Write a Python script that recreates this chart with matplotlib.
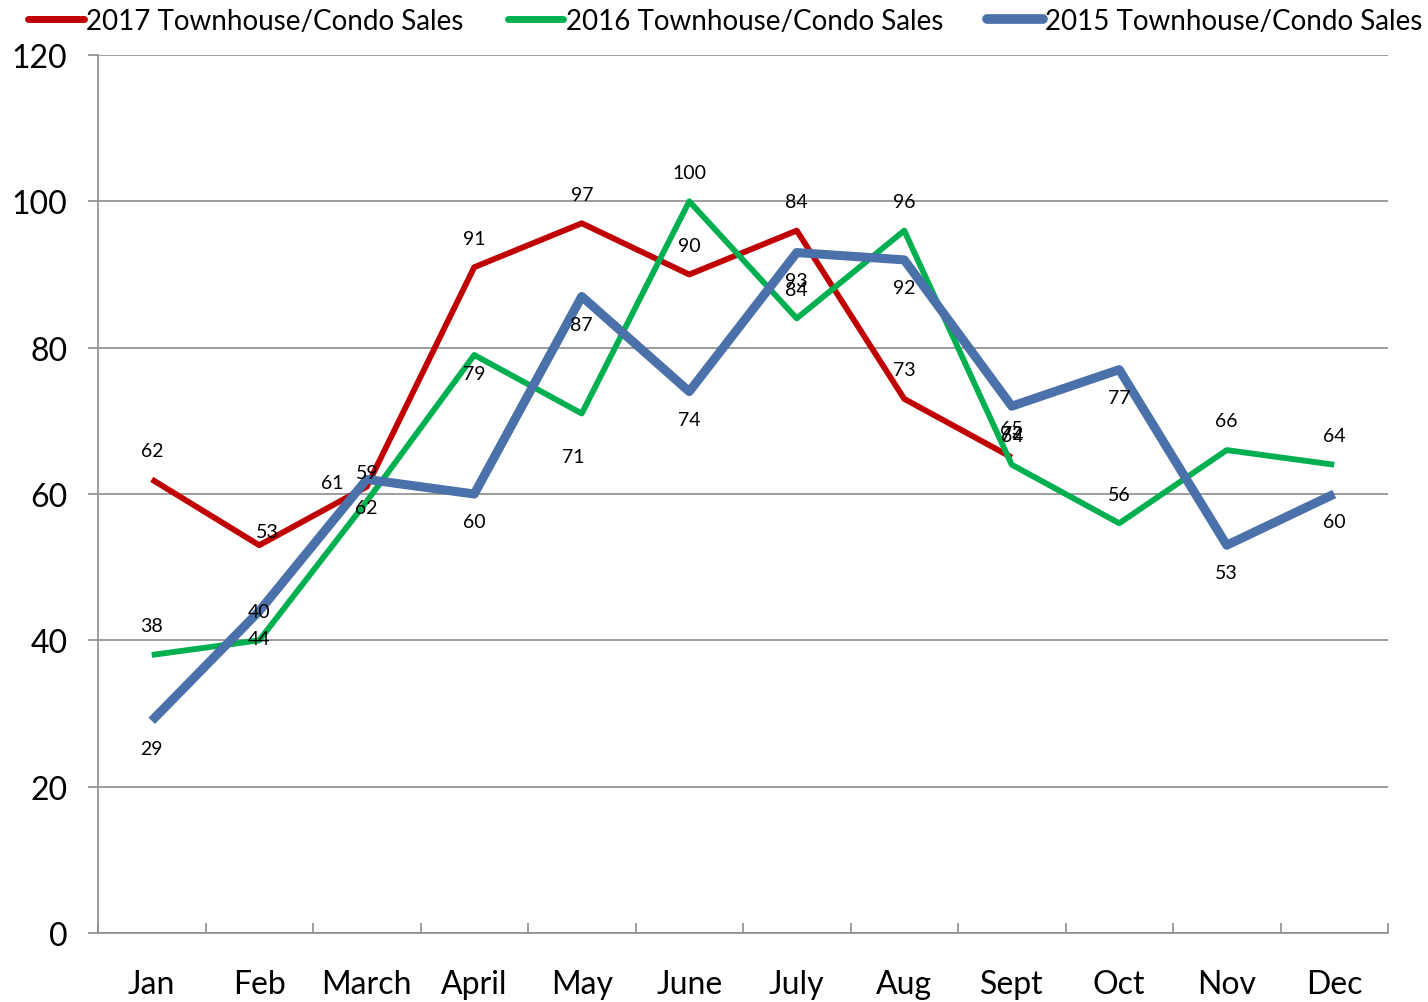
import numpy as np
import matplotlib
matplotlib.use("Agg")
import matplotlib.pyplot as plt
from matplotlib.lines import Line2D

# --- Dados ---
months = ["Jan", "Feb", "March", "April", "May", "June", "July", "Aug", "Sept", "Oct", "Nov", "Dec"]
sales_2017 = [62, 53, 61, 91, 97, 90, 96, 73, 65]
labels_2017 = ["62", "53", "61", "91", "97", "90", "84", "73", "65"]
sales_2016 = [38, 40, 59, 79, 71, 100, 84, 96, 64, 56, 66, 64]
sales_2015 = [29, 44, 62, 60, 87, 74, 93, 92, 72, 77, 53, 60]
yticks = [0, 20, 40, 60, 80, 100, 120]

RED = "#C00000"
GREEN = "#00B050"
BLUE = "#4A71A9"
GRID = "#8C8C8C"

plt.rcParams['font.family'] = ['Lato', 'DejaVu Sans']

fig = plt.figure(figsize=(14.28, 10.03), dpi=100)
ax = fig.add_axes([98/1428, 69/1003, 1290/1428, 878/1003])

x = np.arange(len(months))
ax.plot(x[:len(sales_2017)], sales_2017, color=RED, lw=4.2, zorder=3, solid_capstyle='butt')
ax.plot(x, sales_2016, color=GREEN, lw=4.2, zorder=4, solid_capstyle='butt')
ax.plot(x, sales_2015, color=BLUE, lw=6.5, zorder=5, solid_capstyle='butt')

# --- Rótulos dos pontos ---
def put_labels(vals, texts, default, special):
    for i, (v, t) in enumerate(zip(vals, texts)):
        off = special.get(i, default)
        ax.annotate(t, (x[i], v), xytext=off, textcoords='offset points',
                    ha='center', va='center', fontsize=14, zorder=10)

put_labels(sales_2017, labels_2017, (0, 21), {1: (6, 10), 2: (-25, 3)})
put_labels(sales_2016, [str(v) for v in sales_2016], (0, 21), {3: (0, -13), 4: (-6, -31)})
put_labels(sales_2015, [str(v) for v in sales_2015], (0, -20), {})

# --- Eixos ---
ax.set_xlim(-0.5, 11.5)
ax.set_ylim(0, 120)
ax.set_yticks(yticks)
ax.set_yticklabels([str(v) for v in yticks], fontsize=23)
ax.set_xticks(x)
ax.set_xticklabels(months, fontsize=23)
ax.set_xticks(np.arange(-0.5, 12, 1), minor=True)
ax.tick_params(axis='x', which='major', length=0, pad=26)
ax.tick_params(axis='x', which='minor', direction='in', length=7, width=1.2, color=GRID)
ax.tick_params(axis='y', direction='out', length=7, width=1.2, color=GRID, pad=15)
ax.grid(axis='y', color=GRID, lw=1.2, zorder=0)
ax.set_axisbelow(True)
for s in ['top', 'right']:
    ax.spines[s].set_visible(False)
for s in ['left', 'bottom']:
    ax.spines[s].set_color(GRID)
    ax.spines[s].set_linewidth(1.2)

# --- Legenda ---
handles = [Line2D([], [], color=RED, lw=5, solid_capstyle='round'),
           Line2D([], [], color=GREEN, lw=5, solid_capstyle='round'),
           Line2D([], [], color=BLUE, lw=7, solid_capstyle='round')]
names = ["2017 Townhouse/Condo Sales", "2016 Townhouse/Condo Sales", "2015 Townhouse/Condo Sales"]
fig.legend(handles, names, loc='center', bbox_to_anchor=(0.508, 1 - 22/1003), ncol=3,
           frameon=False, fontsize=20, handlelength=2.0, handletextpad=0.08,
           columnspacing=1.6, borderaxespad=0, borderpad=0)

fig.savefig("out.png", dpi=100)
